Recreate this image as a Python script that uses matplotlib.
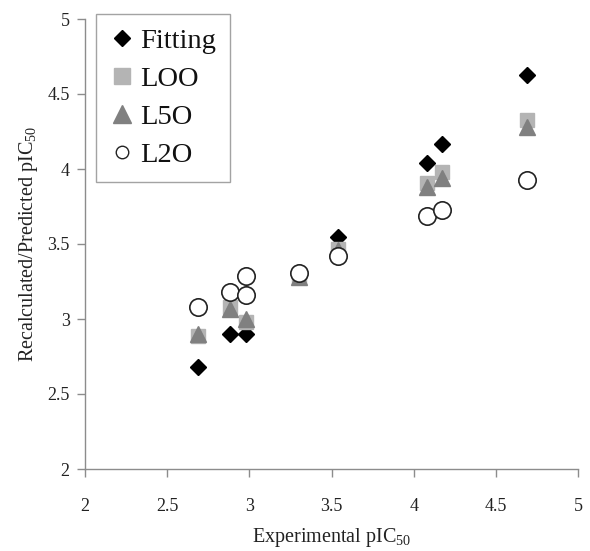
import matplotlib
matplotlib.use("Agg")
import matplotlib.pyplot as plt
from matplotlib.lines import Line2D

plt.rcParams['font.family'] = ['Liberation Serif', 'DejaVu Serif']
plt.rcParams['mathtext.fontset'] = 'custom'
plt.rcParams['mathtext.rm'] = 'Liberation Serif'
plt.rcParams['mathtext.it'] = 'Liberation Serif:italic'

experimental = [2.69, 2.88, 2.98, 3.30, 3.54, 4.08, 4.17, 4.69]
fitting = [2.68, 2.90, 2.90, 3.29, 3.55, 4.04, 4.17, 4.63]
loo = [2.89, 3.08, 2.98, 3.28, 3.47, 3.91, 3.98, 4.33]
l5o = [2.90, 3.07, 3.00, 3.28, 3.46, 3.88, 3.94, 4.28]
# the L2O series has two circles at x=2.98 (3.16 and 3.29)
l2o_x = [2.69, 2.88, 2.98, 2.98, 3.30, 3.54, 4.08, 4.17, 4.69]
l2o_y = [3.08, 3.18, 3.29, 3.16, 3.31, 3.42, 3.69, 3.73, 3.93]
x_ticks = [2, 2.5, 3, 3.5, 4, 4.5, 5]
y_ticks = [2, 2.5, 3, 3.5, 4, 4.5, 5]
labels = ['Fitting', 'LOO', 'L5O', 'L2O']

fig = plt.figure(figsize=(5.9, 5.51), dpi=100)
ax = fig.add_axes([85/590, 1-469/551, (578-85)/590, (469-19)/551])

ax.plot(experimental, fitting, 'D', color='black', markersize=8.5, linestyle='none')
ax.plot(experimental, loo, 's', color='#b4b4b4', markersize=10.5, linestyle='none')
ax.plot(experimental, l5o, '^', color='#808080', markersize=11.5, linestyle='none')
ax.plot(l2o_x, l2o_y, 'o', markerfacecolor='white', markeredgecolor='#222222',
        markeredgewidth=1.2, markersize=12.5, linestyle='none')

ax.set_xlim(2, 5)
ax.set_ylim(2, 5)
ax.set_xticks(x_ticks)
ax.set_yticks(y_ticks)
ax.set_xticklabels([f'{t:g}' for t in x_ticks])
ax.set_yticklabels([f'{t:g}' for t in y_ticks])

for s in ['top', 'right']:
    ax.spines[s].set_visible(False)
for s in ['left', 'bottom']:
    ax.spines[s].set_color('#8c8c8c')
    ax.spines[s].set_linewidth(1.0)
ax.tick_params(axis='both', direction='out', length=6, width=1, color='#8c8c8c',
               labelsize=13, labelcolor='#222222', pad=5)
ax.tick_params(axis='x', pad=15)

ax.set_xlabel(r'Experimental pIC$_{50}$', fontsize=14.5, color='#222222', labelpad=8)
ax.set_ylabel(r'Recalculated/Predicted pIC$_{50}$', fontsize=14.5, color='#222222', labelpad=5)

handles = [
    Line2D([], [], marker='D', color='black', markersize=8, linestyle='none'),
    Line2D([], [], marker='s', color='#b4b4b4', markersize=12, linestyle='none'),
    Line2D([], [], marker='^', color='#808080', markersize=12.5, linestyle='none'),
    Line2D([], [], marker='o', markerfacecolor='white', markeredgecolor='#222222',
           markeredgewidth=1.0, markersize=9, linestyle='none'),
]
leg = ax.legend(handles, labels, loc='upper left',
                bbox_to_anchor=(96/590, 1-14/551), bbox_transform=fig.transFigure,
                borderaxespad=0, fontsize=20.5, frameon=True, fancybox=False,
                labelspacing=0.42, handlelength=0.8, handletextpad=0.25,
                borderpad=0.5)
leg.get_frame().set_edgecolor('#8c8c8c')
leg.get_frame().set_linewidth(1.0)
for t in leg.get_texts():
    t.set_color('#111111')

fig.savefig('out.png', dpi=100)
